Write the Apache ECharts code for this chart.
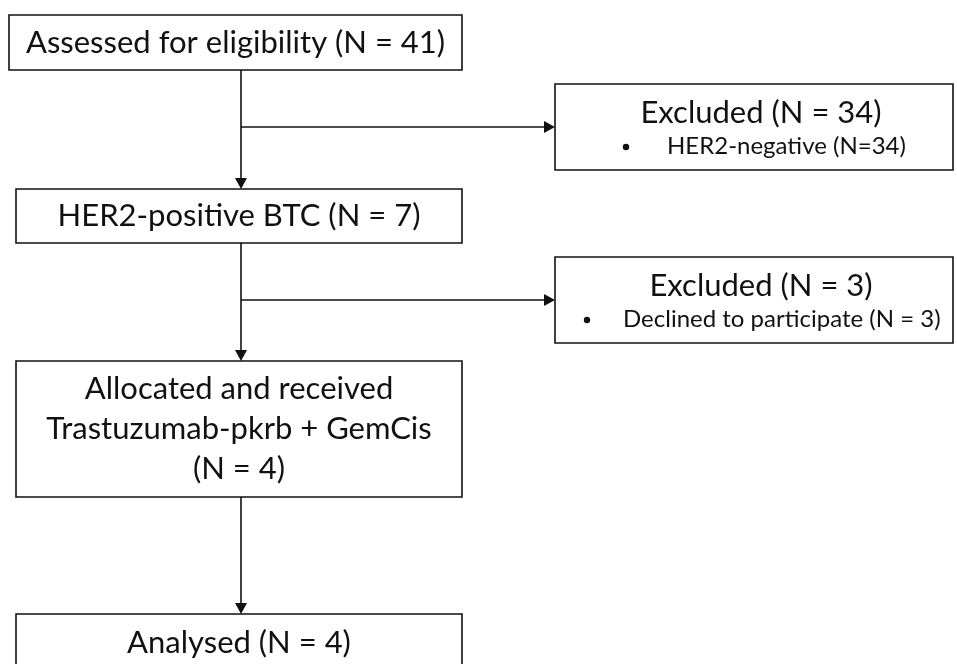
<!DOCTYPE html>
<html>
<head>
<meta charset="utf-8">
<script src="https://cdn.jsdelivr.net/npm/echarts@6/dist/echarts.min.js"></script>
<style>
  html, body { margin: 0; padding: 0; background: #fff; }
  #chart { width: 957px; height: 664px; }
</style>
</head>
<body>
<div id="chart"></div>
<script>
// flow steps (main column) and their counts
const mainSteps = ['Assessed for eligibility', 'HER2-positive BTC', 'Allocated and received\nTrastuzumab-pkrb + GemCis', 'Analysed'];
const mainCounts = [41, 7, 4, 4];
// exclusion boxes on the right
const exclTitles = ['Excluded', 'Excluded'];
const exclCounts = [34, 3];
const exclReasons = ['HER2-negative (N=34)', 'Declined to participate (N = 3)'];

// layout (px)
const mainBoxes = [
    { x: 9, y: 15, w: 453, h: 55 },
    { x: 16, y: 189, w: 446, h: 54 },
    { x: 16, y: 361, w: 446, h: 136 },
    { x: 16, y: 614, w: 446, h: 62 }
];
const exclBoxes = [
    { x: 555, y: 84, w: 398, h: 86, branchY: 127, bulletX: 626, textX: 667 },
    { x: 555, y: 257, w: 398, h: 86, branchY: 300, bulletX: 587, textX: 623 }
];
const stemX = 241;
const font = 'Lato, "Open Sans", sans-serif';
const ink = '#111';

const elements = [];

function box(b) {
    elements.push({
        type: 'rect',
        shape: { x: b.x, y: b.y, width: b.w, height: b.h },
        style: { fill: '#fff', stroke: ink, lineWidth: 1.6 }
    });
}
function line(x1, y1, x2, y2) {
    elements.push({
        type: 'line',
        shape: { x1: x1, y1: y1, x2: x2, y2: y2 },
        style: { stroke: ink, lineWidth: 1.6 }
    });
}
function arrowDown(x, y) {
    elements.push({
        type: 'polygon',
        shape: { points: [[x - 6, y - 11], [x + 6, y - 11], [x, y]] },
        style: { fill: ink }
    });
}
function arrowRight(x, y) {
    elements.push({
        type: 'polygon',
        shape: { points: [[x - 11, y - 6], [x - 11, y + 6], [x, y]] },
        style: { fill: ink }
    });
}

// connectors
for (let i = 0; i < mainBoxes.length - 1; i++) {
    const a = mainBoxes[i], b = mainBoxes[i + 1];
    line(stemX, a.y + a.h, stemX, b.y - 10);
    arrowDown(stemX, b.y);
}
exclBoxes.forEach(function (e) {
    line(stemX, e.branchY, e.x - 10, e.branchY);
    arrowRight(e.x, e.branchY);
});

// main boxes
mainBoxes.forEach(function (b, i) {
    box(b);
    const lines = mainSteps[i].split('\n');
    let txt;
    if (lines.length > 1) {
        txt = lines.join('\n') + '\n(N = ' + mainCounts[i] + ')';
    } else {
        txt = lines[0] + ' (N = ' + mainCounts[i] + ')';
    }
    const cy = i === mainBoxes.length - 1 ? b.y + 29 : b.y + b.h / 2;
    elements.push({
        type: 'text',
        x: b.x + b.w / 2,
        y: cy,
        style: {
            text: txt,
            font: '31px ' + font,
            fill: ink,
            textAlign: 'center',
            textVerticalAlign: 'middle',
            lineHeight: 40
        }
    });
});

// exclusion boxes
exclBoxes.forEach(function (b, i) {
    box(b);
    elements.push({
        type: 'text',
        x: b.x + b.w / 2 + 7,
        y: b.y + 29,
        style: {
            text: exclTitles[i] + ' (N = ' + exclCounts[i] + ')',
            font: '31px ' + font,
            fill: ink,
            textAlign: 'center',
            textVerticalAlign: 'middle'
        }
    });
    elements.push({
        type: 'text',
        x: b.textX,
        y: b.y + 62,
        style: {
            text: exclReasons[i],
            font: '24px ' + font,
            fill: ink,
            textAlign: 'left',
            textVerticalAlign: 'middle'
        }
    });
    elements.push({
        type: 'circle',
        shape: { cx: b.bulletX, cy: b.y + 63, r: 3.2 },
        style: { fill: ink }
    });
});

const chart = echarts.init(document.getElementById('chart'));
chart.setOption({
    backgroundColor: '#fff',
    animation: false,
    graphic: { elements: elements }
});
</script>
</body>
</html>
